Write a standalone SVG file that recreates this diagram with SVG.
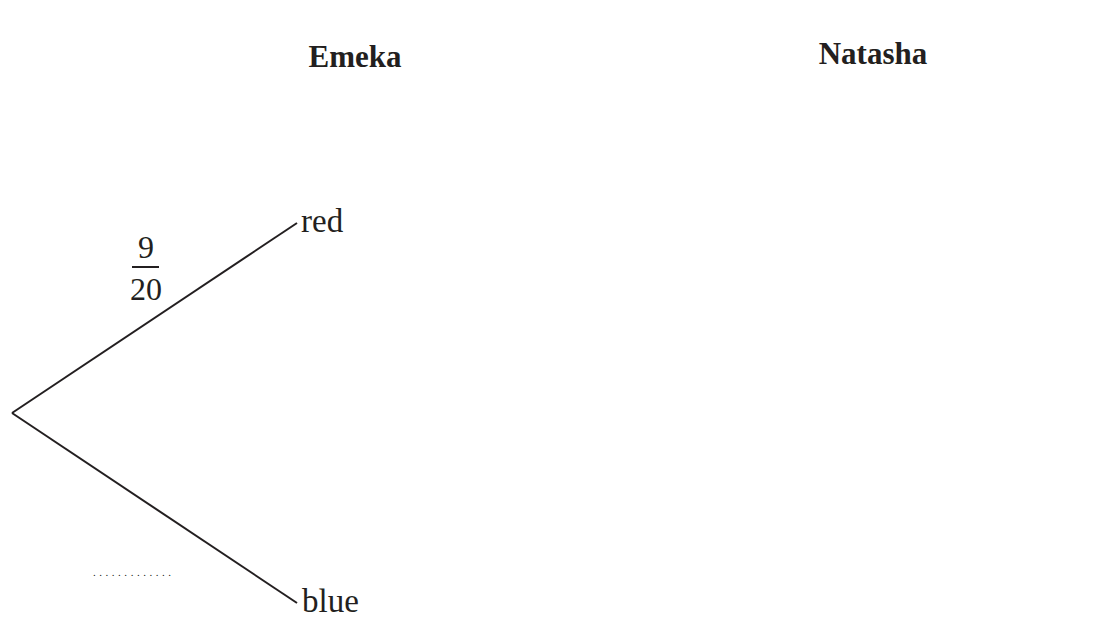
<svg xmlns="http://www.w3.org/2000/svg" width="1097" height="618" viewBox="0 0 1097 618">
<style>
.t{font-family:"Liberation Serif","Times New Roman",serif;fill:#231f20}
.h{font-size:31px;font-weight:bold}
.l{font-size:33px}
.f{font-size:32px}
.c{stroke:#231f20;stroke-width:2;fill:none}
</style>
<rect width="1097" height="618" fill="#fff"/>
<g id="headers">
<text class="t h" x="355" y="67" text-anchor="middle">Emeka</text>
<text class="t h" x="873" y="64" text-anchor="middle">Natasha</text>
</g>
<g id="connectors">
<line class="c" x1="12" y1="413" x2="297" y2="223"/>
<line class="c" x1="12" y1="413" x2="297" y2="603"/>
</g>
<g id="node-red"><text class="t l" x="301" y="232">red</text></g>
<g id="node-blue"><text class="t l" x="302" y="612">blue</text></g>
<g id="prob-red">
<text class="t f" x="146" y="258" text-anchor="middle">9</text>
<line class="c" x1="132" y1="267" x2="159" y2="267" stroke-width="1.5"/>
<text class="t f" x="146" y="300" text-anchor="middle">20</text>
</g>
<g id="prob-blue"><text class="t" x="93" y="576" font-size="11" textLength="78">.............</text></g>
</svg>
